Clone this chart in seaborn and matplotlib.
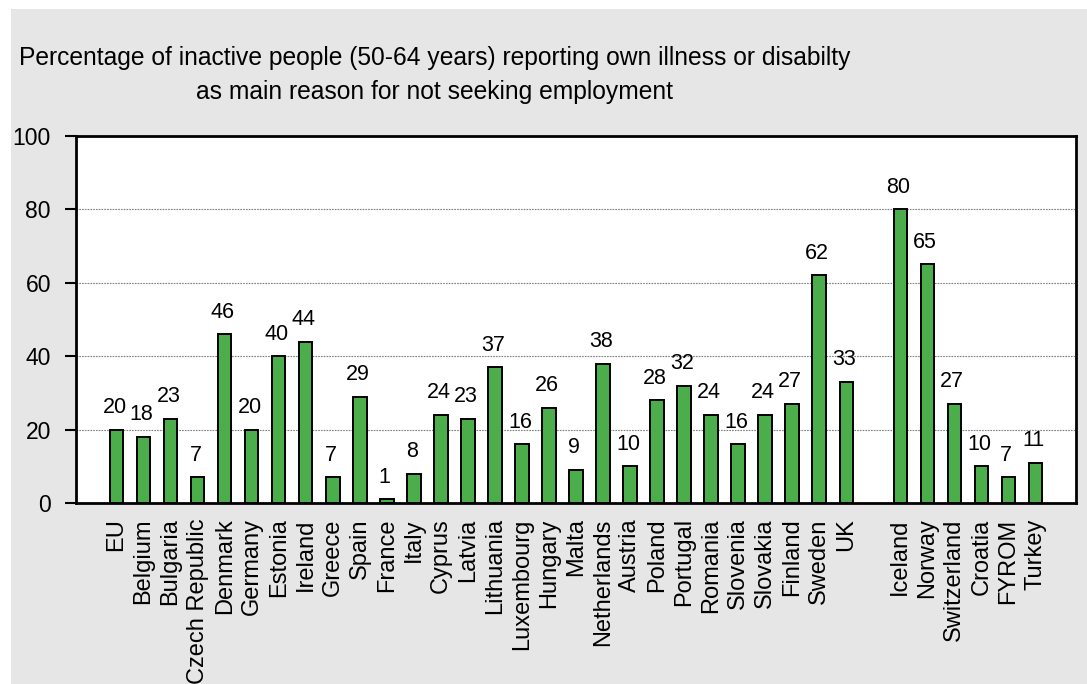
import matplotlib
matplotlib.use("Agg")
import matplotlib.pyplot as plt
from matplotlib.patches import Rectangle
import seaborn as sns
import pandas as pd

# Share of inactive people aged 50-64 citing own illness or disability
eu_countries = ["EU", "Belgium", "Bulgaria", "Czech Republic", "Denmark", "Germany",
                "Estonia", "Ireland", "Greece", "Spain", "France", "Italy", "Cyprus",
                "Latvia", "Lithuania", "Luxembourg", "Hungary", "Malta", "Netherlands",
                "Austria", "Poland", "Portugal", "Romania", "Slovenia", "Slovakia",
                "Finland", "Sweden", "UK"]
eu_values = [20, 18, 23, 7, 46, 20, 40, 44, 7, 29, 1, 8, 24, 23, 37, 16, 26, 9, 38,
             10, 28, 32, 24, 16, 24, 27, 62, 33]
other_countries = ["Iceland", "Norway", "Switzerland", "Croatia", "FYROM", "Turkey"]
other_values = [80, 65, 27, 10, 7, 11]

title_lines = ["Percentage of inactive people (50-64 years) reporting own illness or disabilty",
               "as main reason for not seeking employment"]
y_ticks = [0, 20, 40, 60, 80, 100]

# Blank slots: one before the EU group, one separating the groups, one at the end
order = [" "] + eu_countries + ["  "] + other_countries + ["   "]
df = pd.DataFrame({"country": eu_countries + other_countries,
                   "value": eu_values + other_values})

plt.rcParams["font.family"] = ["Liberation Sans", "DejaVu Sans"]

W, H = 1087, 684
fig = plt.figure(figsize=(W / 100, H / 100), dpi=100)
fig.patch.set_facecolor("white")
fig.patches.append(Rectangle((11 / W, 0), 1 - 11 / W, 1 - 9 / H,
                             transform=fig.transFigure, facecolor="#e6e6e6",
                             edgecolor="none", zorder=-10))

ax = fig.add_axes([76 / W, (H - 503) / H, 1000 / W, 367 / H])
ax.set_facecolor("white")

sns.barplot(data=df, x="country", y="value", order=order, color="#4cae4a",
            saturation=1, width=0.5, edgecolor="black", linewidth=1.4, ax=ax)

for cname, v in zip(df["country"], df["value"]):
    xpos = order.index(cname)
    ax.annotate(str(v), (xpos, v), xytext=(-1.5, 12), textcoords="offset points",
                ha="center", va="baseline", fontsize=15.5, color="black")

ax.set_xlim(-0.5, len(order) - 0.5)
ax.set_ylim(0, 100)
ax.set_yticks(y_ticks)
ax.set_yticklabels([str(t) for t in y_ticks], fontsize=16.5)
ax.tick_params(axis="y", direction="out", length=8, width=1.5, pad=10)
ax.tick_params(axis="x", length=0, pad=11, labelrotation=90, labelsize=17)
for lbl in ax.get_xticklabels():
    lbl.set_va("top")
    lbl.set_ha("center")
ax.set_xlabel("")
ax.set_ylabel("")

ax.yaxis.grid(True, color="#7f7f7f", linestyle=(0, (1.5, 1)), linewidth=0.8)
ax.set_axisbelow(True)
for side in ["left", "right", "top", "bottom"]:
    ax.spines[side].set_visible(True)
    ax.spines[side].set_color("black")
    ax.spines[side].set_linewidth(2)

fig.text(435 / W, 1 - 58 / H, title_lines[0], ha="center", va="center", fontsize=17.7)
fig.text(435 / W, 1 - 92 / H, title_lines[1], ha="center", va="center", fontsize=17.7)

fig.savefig("out.png", dpi=100)
